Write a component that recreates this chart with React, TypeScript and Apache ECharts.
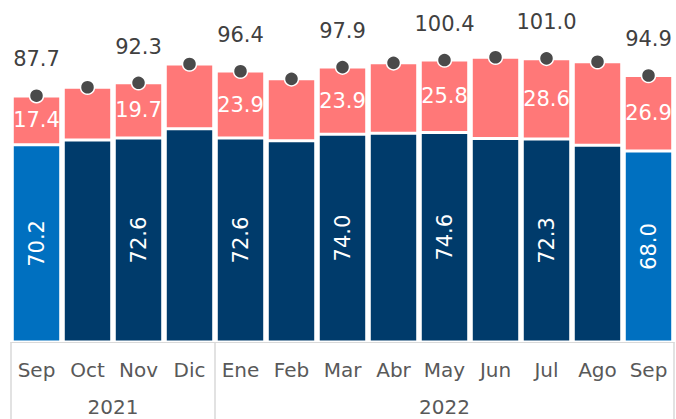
import React, { useEffect, useRef } from "react";
import * as echarts from "echarts";

const months = ["Sep", "Oct", "Nov", "Dic", "Ene", "Feb", "Mar", "Abr", "May", "Jun", "Jul", "Ago", "Sep"];
const years = ["2021", "2022"];
const yearCounts = [4, 9];
const baseValues = [70.2, 71.9, 72.6, 75.9, 72.6, 71.7, 74.0, 74.3, 74.6, 72.5, 72.3, 70.1, 68.0];
const topValues = [17.4, 18.8, 19.7, 23.1, 23.9, 22.0, 23.9, 25.1, 25.8, 28.9, 28.6, 29.7, 26.9];
const totals = [87.7, 90.7, 92.3, 99.0, 96.4, 93.7, 97.9, 99.4, 100.4, 101.4, 101.0, 99.8, 94.9];
const labeledIdx = [0, 2, 4, 6, 8, 10, 12];

const FONT = "DejaVu Sans";
const WEIGHT = "normal";

export default function App() {
  const ref = useRef<HTMLDivElement>(null);
  useEffect(() => {
    document.body.style.margin = "0";
    if (!ref.current) return;
    const chart = echarts.init(ref.current, null, { renderer: "svg" });

    const bounds: number[] = [-0.5];
    const centers: number[] = [];
    let acc = 0;
    yearCounts.forEach((c) => {
      centers.push(acc - 0.5 + c / 2);
      acc += c;
      bounds.push(acc - 0.5);
    });

    const show = (i: number) => labeledIdx.indexOf(i) >= 0;
    const last = months.length - 1;

    chart.setOption({
      animation: false,
      grid: { left: 11, right: 2, top: 5, bottom: 77 },
      xAxis: [
        {
          type: "category",
          data: months,
          axisLine: { show: true, lineStyle: { color: "#d9d9d9", width: 1 } },
          axisTick: { show: false },
          axisLabel: { interval: 0, color: "#595959", fontSize: 20, fontFamily: FONT, fontWeight: WEIGHT, margin: 18 },
        },
        {
          type: "value",
          min: -0.5,
          max: months.length - 0.5,
          position: "bottom",
          axisLine: { show: false },
          splitLine: { show: false },
          axisTick: {
            show: true,
            customValues: bounds,
            length: 80,
            lineStyle: { color: "#d9d9d9", width: 1.5 },
          },
          axisLabel: {
            show: true,
            customValues: centers,
            margin: 55,
            color: "#595959",
            fontSize: 20,
            lineHeight: 20,
            fontFamily: FONT,
            fontWeight: WEIGHT,
            formatter: (v: number) => {
              const k = centers.findIndex((c) => Math.abs(c - v) < 1e-6);
              return k >= 0 ? years[k] : "";
            },
          },
        },
      ],
      yAxis: { type: "value", min: 0, max: 120, show: false },
      series: [
        {
          type: "bar",
          stack: "a",
          data: baseValues,
          barCategoryGap: "5%",
          itemStyle: {
            color: (p: any) => (p.dataIndex === 0 || p.dataIndex === last ? "#0070c0" : "#003b6b"),
            borderColor: "#ffffff",
            borderWidth: 1.5,
          },
          label: {
            show: true,
            position: "inside",
            rotate: 90,
            color: "#ffffff",
            fontSize: 21,
            fontFamily: FONT,
            fontWeight: WEIGHT,
            formatter: (p: any) => (show(p.dataIndex) ? p.value.toFixed(1) : ""),
          },
        },
        {
          type: "bar",
          stack: "a",
          data: topValues,
          itemStyle: { color: "#ff7878", borderColor: "#ffffff", borderWidth: 1.5 },
          label: {
            show: true,
            position: "inside",
            color: "#ffffff",
            fontSize: 21,
            fontFamily: FONT,
            fontWeight: WEIGHT,
            formatter: (p: any) => (show(p.dataIndex) ? p.value.toFixed(1) : ""),
          },
        },
        {
          type: "scatter",
          data: totals,
          symbolSize: 14,
          itemStyle: { color: "#4a4a4a", borderColor: "#ffffff", borderWidth: 1.5, opacity: 1 },
          label: {
            show: true,
            position: "top",
            distance: 18,
            color: "#404040",
            fontSize: 21,
            fontFamily: FONT,
            fontWeight: WEIGHT,
            formatter: (p: any) => (show(p.dataIndex) ? p.value.toFixed(1) : ""),
          },
          z: 5,
        },
      ],
    });
    return () => chart.dispose();
  }, []);
  return <div ref={ref} style={{ width: 676, height: 419 }} />;
}
